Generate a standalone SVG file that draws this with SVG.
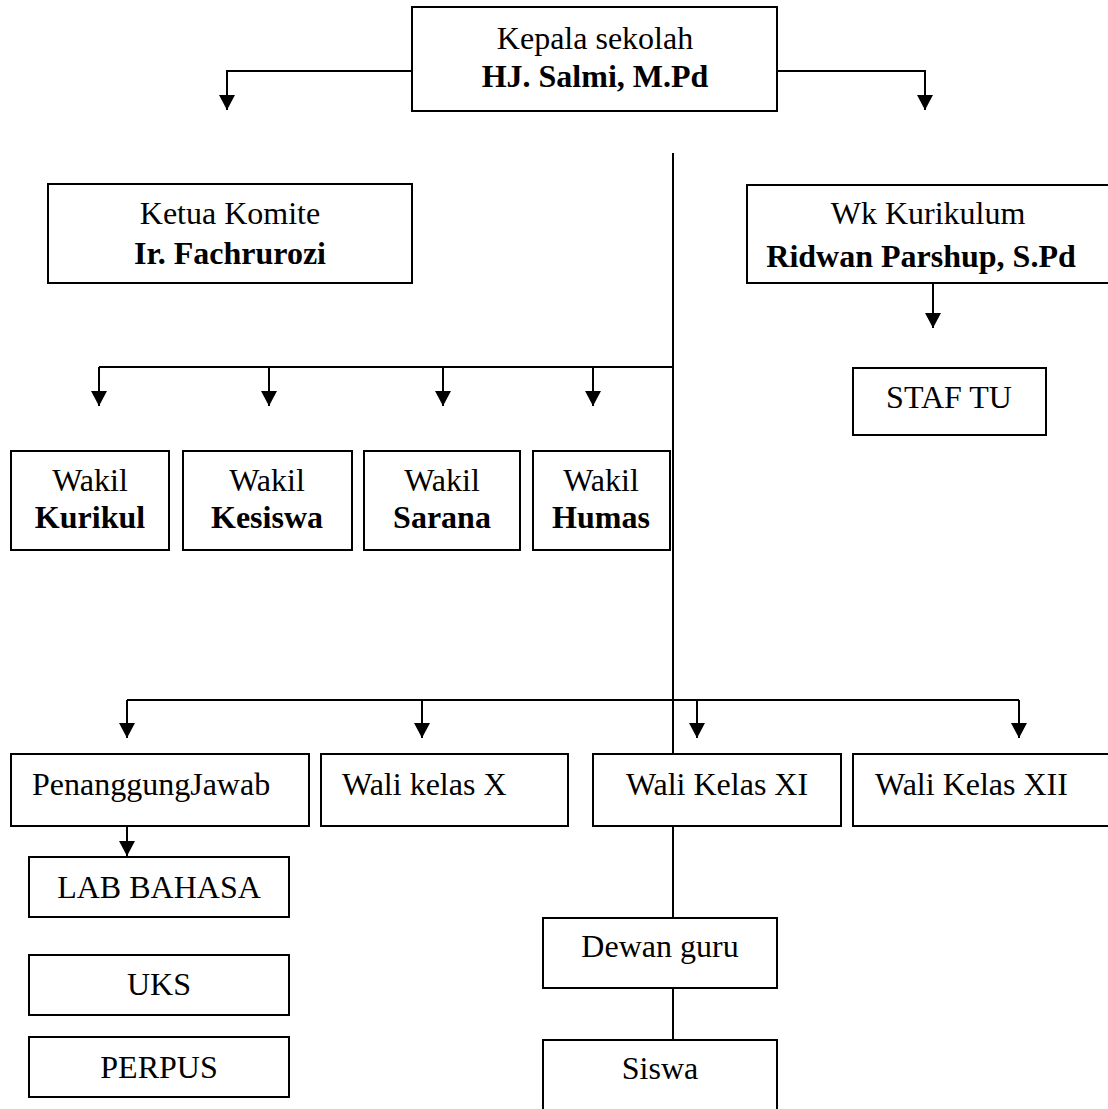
<svg xmlns="http://www.w3.org/2000/svg" width="1108" height="1109" viewBox="0 0 1108 1109">
<style>
.box{fill:#fff;stroke:#000;stroke-width:2}
.t{font-family:"Liberation Serif","Times New Roman",serif;font-size:32px;fill:#000}
.c{text-anchor:middle}
.b{font-weight:bold}
.ln{fill:none;stroke:#000;stroke-width:2}
</style>
<defs>
<marker id="arr" markerUnits="userSpaceOnUse" markerWidth="16" markerHeight="16" viewBox="0 0 16 16" refX="15" refY="8" orient="auto">
<path d="M0,0 L15,8 L0,16 Z" fill="#000"/>
</marker>
</defs>
<rect width="1108" height="1109" fill="#fff"/>
<g id="connectors">
<path class="ln" d="M412,71 H227 V110" marker-end="url(#arr)"/>
<path class="ln" d="M777,71 H925 V110" marker-end="url(#arr)"/>
<path class="ln" d="M673,153 V754"/>
<path class="ln" d="M673,367 H99"/>
<path class="ln" d="M99,367 V406" marker-end="url(#arr)"/>
<path class="ln" d="M269,367 V406" marker-end="url(#arr)"/>
<path class="ln" d="M443,367 V406" marker-end="url(#arr)"/>
<path class="ln" d="M593,367 V406" marker-end="url(#arr)"/>
<path class="ln" d="M933,283 V328" marker-end="url(#arr)"/>
<path class="ln" d="M127,700 H1019"/>
<path class="ln" d="M127,700 V738" marker-end="url(#arr)"/>
<path class="ln" d="M422,700 V738" marker-end="url(#arr)"/>
<path class="ln" d="M697,700 V738" marker-end="url(#arr)"/>
<path class="ln" d="M1019,700 V738" marker-end="url(#arr)"/>
<path class="ln" d="M127,826 V856" marker-end="url(#arr)"/>
<path class="ln" d="M673,826 V918"/>
<path class="ln" d="M673,988 V1040"/>
</g>
<g id="kepala">
<rect class="box" x="412" y="7" width="365" height="104"/>
<text class="t c" x="595" y="49">Kepala sekolah</text>
<text class="t c b" x="595" y="87">HJ. Salmi, M.Pd</text>
</g>
<g id="ketua">
<rect class="box" x="48" y="184" width="364" height="99"/>
<text class="t c" x="230" y="224">Ketua Komite</text>
<text class="t c b" x="230" y="264">Ir. Fachrurozi</text>
</g>
<g id="wk-kurikulum">
<rect class="box" x="747" y="185" width="380" height="98"/>
<text class="t c" x="928" y="224">Wk Kurikulum</text>
<text class="t c b" x="921" y="267">Ridwan Parshup, S.Pd</text>
</g>
<g id="staf-tu">
<rect class="box" x="853" y="368" width="193" height="67"/>
<text class="t c" x="949" y="408">STAF TU</text>
</g>
<g id="wakil-kurikul">
<rect class="box" x="11" y="451" width="158" height="99"/>
<text class="t c" x="90" y="491">Wakil</text>
<text class="t c b" x="90" y="528">Kurikul</text>
</g>
<g id="wakil-kesiswa">
<rect class="box" x="183" y="451" width="169" height="99"/>
<text class="t c" x="267" y="491">Wakil</text>
<text class="t c b" x="267" y="528">Kesiswa</text>
</g>
<g id="wakil-sarana">
<rect class="box" x="364" y="451" width="156" height="99"/>
<text class="t c" x="442" y="491">Wakil</text>
<text class="t c b" x="442" y="528">Sarana</text>
</g>
<g id="wakil-humas">
<rect class="box" x="533" y="451" width="137" height="99"/>
<text class="t c" x="601" y="491">Wakil</text>
<text class="t c b" x="601" y="528">Humas</text>
</g>
<g id="penanggung-jawab">
<rect class="box" x="11" y="754" width="298" height="72"/>
<text class="t" x="32" y="795">PenanggungJawab</text>
</g>
<g id="wali-x">
<rect class="box" x="321" y="754" width="247" height="72"/>
<text class="t" x="342" y="795">Wali kelas X</text>
</g>
<g id="wali-xi">
<rect class="box" x="593" y="754" width="248" height="72"/>
<text class="t c" x="717" y="795">Wali Kelas XI</text>
</g>
<g id="wali-xii">
<rect class="box" x="853" y="754" width="270" height="72"/>
<text class="t" x="875" y="795">Wali Kelas XII</text>
</g>
<g id="lab-bahasa">
<rect class="box" x="29" y="857" width="260" height="60"/>
<text class="t c" x="159" y="898">LAB BAHASA</text>
</g>
<g id="uks">
<rect class="box" x="29" y="955" width="260" height="60"/>
<text class="t c" x="159" y="995">UKS</text>
</g>
<g id="perpus">
<rect class="box" x="29" y="1037" width="260" height="60"/>
<text class="t c" x="159" y="1078">PERPUS</text>
</g>
<g id="dewan-guru">
<rect class="box" x="543" y="918" width="234" height="70"/>
<text class="t c" x="660" y="957">Dewan guru</text>
</g>
<g id="siswa">
<rect class="box" x="543" y="1040" width="234" height="90"/>
<text class="t c" x="660" y="1079">Siswa</text>
</g>
</svg>
